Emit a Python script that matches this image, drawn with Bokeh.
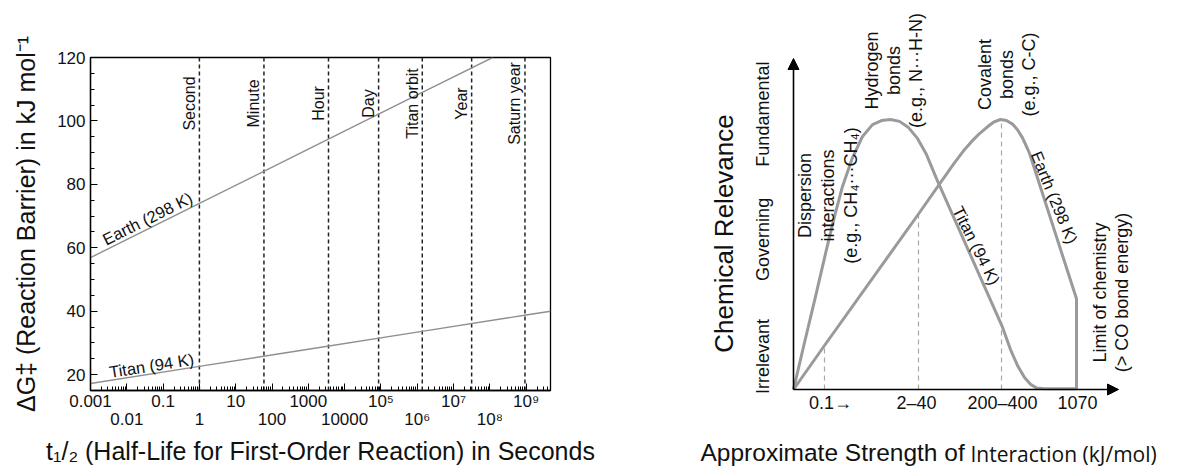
import math
from bokeh.plotting import figure
from bokeh.models import (Range1d, FixedTicker, CustomJSTickFormatter, LogAxis, Label,
                          Arrow, NormalHead)
from bokeh.layouts import row, column
from bokeh.core.properties import value
from bokeh.embed import file_html
from bokeh.resources import INLINE

# ---------------- left panel data ----------------
earth_t = [1e-3, 1, 1e3, 1e6, 1.2e8]
earth_dg = [56.9, 74.0, 91.1, 108.2, 120.0]
titan_t = [1e-3, 1, 1e3, 1e6, 1e9, 4.7e9]
titan_dg = [17.2, 22.6, 28.0, 33.4, 38.8, 40.0]

event_names = ["Second", "Minute", "Hour", "Day", "Titan orbit", "Year", "Saturn year"]
event_t = [1, 60, 3600, 86400, 1.38e6, 3.16e7, 9.3e8]

row1_vals = [1e-3, 1e-1, 1e1, 1e3, 1e5, 1e7, 1e9]
row1_labels = ["0.001", "0.1", "10", "1000", "10\u2075", "10\u2077", "10\u2079"]
row2_vals = [1e-2, 1, 1e2, 1e4, 1e6, 1e8]
row2_labels = ["0.01", "1", "100", "10000", "10\u2076", "10\u2078"]
y_ticks = [20, 40, 60, 80, 100, 120]
y_minor = [15, 20, 25, 30, 35, 40, 45, 50, 55, 60, 65, 70, 75, 80, 85, 90, 95, 100, 105, 110, 115, 120]

# ---------------- right panel data ----------------
titan_x = [0, 1.1, 2.2, 3.3, 4.1, 4.9, 5.9, 6.9, 7.9, 8.8, 9.7, 10.6, 11.5, 12.4, 13.3, 14.3,
           20.9, 21.7, 22.4, 23.1, 23.7, 24.3, 25.1, 28.3]
titan_y = [0, 0.174, 0.344, 0.519, 0.641, 0.752, 0.859, 0.937, 0.981, 0.996, 1.0, 0.993, 0.970,
           0.930, 0.870, 0.781, 0.231, 0.148, 0.089, 0.044, 0.019, 0.006, 0.003, 0.003]
earth_x = [0, 3.1, 12.5, 16.0, 17.0, 17.8, 18.6, 19.4, 20.0, 20.7, 21.3, 21.9, 22.4, 22.9, 23.3,
           23.6, 28.3, 28.3]
earth_y = [0, 0.163, 0.650, 0.835, 0.884, 0.918, 0.948, 0.973, 0.990, 1.0, 0.996, 0.983, 0.962,
           0.932, 0.900, 0.875, 0.336, 0.0]
guide_x = [3.1, 12.5, 20.8]
guide_top = [0.163, 0.650, 1.0]
strength_pos = [3.7, 12.3, 20.9, 28.4]
strength_labels = ["0.1\u2192", "2\u201340", "200\u2013400", "1070"]
relevance_pos = [0.122, 0.556, 1.02]
relevance_labels = ["Irrelevant", "Governing", "Fundamental"]

FONT = "Liberation Sans"
TXT = "#111111"


def fmt(vals, labels):
    return CustomJSTickFormatter(args=dict(vals=vals, labels=labels), code="""
        for (let i = 0; i < vals.length; i++) {
            const a = vals[i];
            if (Math.abs(a - tick) <= 1e-6 * Math.max(Math.abs(a), Math.abs(tick), 1e-9)) return labels[i];
        }
        return "";
    """)


# ================= LEFT FIGURE =================
W1, H1 = 600, 469
L1, R1, T1, B1 = 90, 50, 57, 79
XMIN, XMAX = 1e-3, 4.7e9
YMIN, YMAX = 15, 120
fw1, fh1 = W1 - L1 - R1, H1 - T1 - B1
PX_PER_DEC = fw1 / (math.log10(XMAX) - math.log10(XMIN))


def lx(px):  # page px -> data x (left figure)
    f = (px - L1) / fw1
    return 10 ** (math.log10(XMIN) + f * (math.log10(XMAX) - math.log10(XMIN)))


def ly(py):
    f = (py - T1) / fh1
    return YMAX - f * (YMAX - YMIN)


p1 = figure(width=W1, height=H1, x_axis_type="log", x_range=Range1d(XMIN, XMAX),
            y_range=Range1d(YMIN, YMAX), output_backend="svg", toolbar_location=None,
            min_border_left=L1, min_border_right=R1, min_border_top=T1, min_border_bottom=B1)
p1.grid.visible = False
p1.outline_line_color = "black"
p1.outline_line_width = 1.3
p1.border_fill_color = "white"

decades = [10.0 ** e for e in range(-3, 10)]
minors = [m * 10.0 ** e for e in range(-3, 10) for m in range(2, 10) if m * 10.0 ** e < XMAX]

xa = p1.xaxis[0]
xa.ticker = FixedTicker(ticks=decades, minor_ticks=minors)
xa.formatter = fmt(row1_vals, row1_labels)
xa.major_tick_in = 7
xa.major_tick_out = 0
xa.minor_tick_in = 4
xa.minor_tick_out = 0
xa.major_label_standoff = 1
xa.axis_line_width = 1.3
xa.major_label_text_font = FONT
xa.major_label_text_font_size = "17px"
xa.major_label_text_color = TXT

xa2 = LogAxis(ticker=FixedTicker(ticks=row2_vals), formatter=fmt(row2_vals, row2_labels),
              axis_line_color=None, major_tick_in=0, major_tick_out=0, minor_tick_in=0,
              minor_tick_out=0, major_label_standoff=-4, major_label_text_font=FONT,
              major_label_text_font_size="17px", major_label_text_color=TXT,
              axis_label="t\u2081/\u2082 (Half-Life for First-Order Reaction) in Seconds",
              axis_label_text_font=FONT, axis_label_text_font_size="25px",
              axis_label_text_font_style="normal", axis_label_text_color=TXT,
              axis_label_standoff=5)
p1.add_layout(xa2, "below")

ya = p1.yaxis[0]
ya.ticker = FixedTicker(ticks=y_ticks, minor_ticks=y_minor)
ya.major_tick_in = 7
ya.major_tick_out = 0
ya.minor_tick_in = 4
ya.minor_tick_out = 0
ya.major_label_standoff = 5
ya.axis_line_width = 1.3
ya.major_label_text_font = FONT
ya.major_label_text_font_size = "17px"
ya.major_label_text_color = TXT
ya.axis_label = "\u0394G\u2021 (Reaction Barrier) in kJ mol\u207b\u00b9"
ya.axis_label_text_font = FONT
ya.axis_label_text_font_size = "25px"
ya.axis_label_text_font_style = "normal"
ya.axis_label_text_color = TXT
ya.axis_label_standoff = 14

# dashed event lines
p1.segment(x0=event_t, x1=event_t, y0=[YMIN] * len(event_t), y1=[YMAX] * len(event_t),
           line_color="#222222", line_width=1.5, line_dash="4 3")
shift = 10 ** (-10.0 / PX_PER_DEC)   # label column centred 10 px left of each line
for name, t in zip(event_names, event_t):
    p1.add_layout(Label(x=t * shift, y=105.5, text=name, angle=math.pi / 2,
                        text_align="center", text_baseline="middle", text_font=FONT,
                        text_font_size="16px", text_color=TXT))

p1.line(earth_t, earth_dg, line_color="#8f8f8f", line_width=1.4)
p1.line(titan_t, titan_dg, line_color="#8f8f8f", line_width=1.4)

p1.add_layout(Label(x=lx(147), y=ly(218), text="Earth (298 K)", angle=math.radians(26.5),
                    text_align="center", text_baseline="middle", text_font=FONT,
                    text_font_size="16.5px", text_color=TXT))
p1.add_layout(Label(x=lx(151), y=ly(365), text="Titan (94 K)", angle=math.radians(8.9),
                    text_align="center", text_baseline="middle", text_font=FONT,
                    text_font_size="16.5px", text_color=TXT))

# ================= RIGHT FIGURE =================
X0 = 600
W2, H2 = 1180 - X0, 469
OX, OY = 793, 389          # page position of the origin
SX, SY = 10.0, 270.0       # px per x unit / per y unit
X2MAX, Y2MAX = (1118 - OX) / SX, (OY - 58) / SY


def rx(px):
    return (px - OX) / SX


def ry(py):
    return (OY - py) / SY


p2 = figure(width=W2, height=H2, x_range=Range1d(rx(X0), rx(1180)), y_range=Range1d(ry(469), ry(0)),
            output_backend="svg", toolbar_location=None, min_border=0,
            x_axis_location=None, y_axis_location=None)
p2.grid.visible = False
p2.outline_line_color = None
p2.border_fill_color = "white"

# guide dashed lines
p2.segment(x0=guide_x, x1=guide_x, y0=[0] * len(guide_x), y1=guide_top,
           line_color="#a8a8a8", line_width=1.2, line_dash="5 4")

p2.line(titan_x, titan_y, line_color="#9a9a9a", line_width=3, line_join="round")
p2.line(earth_x, earth_y, line_color="#9a9a9a", line_width=3, line_join="round")

# axes arrows
p2.add_layout(Arrow(end=NormalHead(size=11, fill_color="black", line_color="black"),
                    x_start=0, y_start=0, x_end=X2MAX, y_end=0, line_color="black", line_width=1.6))
p2.add_layout(Arrow(end=NormalHead(size=11, fill_color="black", line_color="black"),
                    x_start=0, y_start=0, x_end=0, y_end=Y2MAX, line_color="black", line_width=1.6))

# tick labels
p2.text(x=strength_pos, y=[ry(402)] * len(strength_pos), text=strength_labels,
        text_align="center", text_baseline="middle", text_font=value(FONT),
        text_font_size="18px", text_color=TXT)
p2.text(x=[rx(762)] * len(relevance_pos), y=relevance_pos, text=relevance_labels, angle=math.pi / 2,
        text_align="center", text_baseline="middle", text_font=value(FONT),
        text_font_size="18px", text_color=TXT)


def lab(px, py, text, size="18px", angle=math.pi / 2, align="center", font=FONT):
    p2.add_layout(Label(x=rx(px), y=ry(py), text=text, angle=angle, text_align=align,
                        text_baseline="middle", text_font=font, text_font_size=size,
                        text_color=TXT))


lab(723, 233, "Chemical Relevance", size="26px")
lab(804, 195, "Dispersion")
lab(827, 195, "interactions")
lab(850, 195, "(e.g., CH\u2084\u00b7\u00b7\u00b7CH\u2084)")
lab(871, 70, "Hydrogen")
lab(893, 70, "bonds")
lab(915, 70, "(e.g., N\u00b7\u00b7\u00b7H-N)")
lab(984, 74, "Covalent")
lab(1006, 74, "bonds")
lab(1028, 74, "(e.g., C-C)")
lab(1099, 292, "Limit of chemistry")
lab(1121, 292, "(> CO bond energy)")
lab(976, 245, "Titan (94 K)", size="16.5px", angle=math.radians(-63.4))
lab(1054, 197, "Earth (298 K)", size="16.5px", angle=math.radians(-67.8))
lab(700, 452, "Approximate Strength of", size="24.5px", angle=0, align="left")
lab(970, 453, "Interaction (kJ/mol)", size="21px", angle=0, align="left", font="Open Sans")

layout = row(column(p1), p2)
open("out.html", "w").write(file_html(layout, INLINE))
